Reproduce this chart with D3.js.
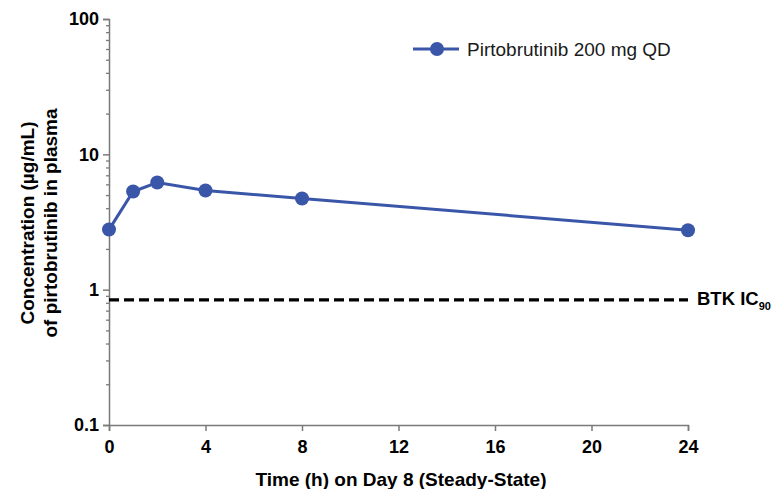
<!DOCTYPE html>
<html lang="en">
<head>
<meta charset="UTF-8">
<script src="https://d3js.org/d3.v7.min.js"></script>
<style>
  body { margin: 0; background: #fff; font-family: "Liberation Sans", Arial, sans-serif; }
</style>
</head>
<body>
<div id="chart"></div>
<script>
// data
const hours = [0, 1, 2, 4, 8, 24];
const conc = [2.78, 5.31, 6.19, 5.40, 4.72, 2.75];
const seriesName = "Pirtobrutinib 200 mg QD";
const btkIC90 = 0.84;
const xTicks = [0, 4, 8, 12, 16, 20, 24];
const yTicks = [0.1, 1, 10, 100];

const W = 776, H = 489;
const plotL = 109, plotR = 688, plotT = 19, plotB = 425;
const blue = "#3a56a8", axisGrey = "#7a7a7a";
const font = "'Liberation Sans', Arial, sans-serif";

const svg = d3.select("#chart").append("svg")
  .attr("width", W).attr("height", H)
  .style("font-family", font);

const x = d3.scaleLinear().domain([0, 24]).range([plotL, plotR]);
const y = d3.scaleLog().domain([0.1, 100]).range([plotB, plotT]);

// minor y ticks
const minor = [];
[0.1, 1, 10].forEach(d => { for (let k = 2; k <= 9; k++) minor.push(d * k); });
svg.append("g")
  .attr("transform", `translate(${plotL},0)`)
  .call(d3.axisLeft(y).tickValues(minor).tickSize(3).tickFormat(""))
  .call(g => g.select(".domain").remove())
  .call(g => g.selectAll("line").attr("stroke", axisGrey).attr("stroke-width", 1.3));

// y axis
svg.append("g")
  .attr("transform", `translate(${plotL},0)`)
  .call(d3.axisLeft(y).tickValues(yTicks).tickSize(6).tickPadding(4)
    .tickFormat(d => d >= 1 ? d3.format("d")(d) : d))
  .call(g => g.select(".domain").attr("stroke", axisGrey).attr("stroke-width", 1.5))
  .call(g => g.selectAll("line").attr("stroke", axisGrey).attr("stroke-width", 1.5))
  .call(g => g.selectAll("text").attr("fill", "#000").style("font-size", "18px")
    .style("font-weight", "bold").style("font-family", font));

// x axis
svg.append("g")
  .attr("transform", `translate(0,${plotB})`)
  .call(d3.axisBottom(x).tickValues(xTicks).tickSize(6).tickPadding(9))
  .call(g => g.select(".domain").attr("stroke", axisGrey).attr("stroke-width", 1.5))
  .call(g => g.selectAll("line").attr("stroke", axisGrey).attr("stroke-width", 1.5))
  .call(g => g.selectAll("text").attr("fill", "#000").style("font-size", "18px")
    .style("font-weight", "bold").style("font-family", font));

// axis titles
svg.append("text")
  .attr("x", 401).attr("y", 486)
  .attr("text-anchor", "middle")
  .style("font-size", "19px").style("font-weight", "bold")
  .text("Time (h) on Day 8 (Steady-State)");

const yt = svg.append("text")
  .attr("transform", "translate(34,223) rotate(-90)")
  .attr("text-anchor", "middle")
  .style("font-size", "19px").style("font-weight", "bold");
yt.append("tspan").attr("x", 0).attr("dy", 0).text("Concentration (µg/mL)");
yt.append("tspan").attr("x", 0).attr("dy", 23).text("of pirtobrutinib in plasma");

// BTK IC90 reference line
svg.append("line")
  .attr("x1", x(0)).attr("x2", x(24))
  .attr("y1", y(btkIC90)).attr("y2", y(btkIC90))
  .attr("stroke", "#000").attr("stroke-width", 3.2)
  .attr("stroke-dasharray", "10,5");

const lab = svg.append("text")
  .attr("x", 697).attr("y", 305)
  .style("font-size", "18.5px").style("font-weight", "bold")
  .text("BTK IC");
lab.append("tspan").attr("dy", 5).style("font-size", "11px").text("90");

// series
const pts = hours.map((h, i) => [h, conc[i]]);
svg.append("path")
  .datum(pts)
  .attr("fill", "none")
  .attr("stroke", blue)
  .attr("stroke-width", 3)
  .attr("d", d3.line().x(d => x(d[0])).y(d => y(d[1])));

svg.append("g").selectAll("circle")
  .data(pts)
  .enter().append("circle")
  .attr("cx", d => x(d[0]))
  .attr("cy", d => y(d[1]))
  .attr("r", 7)
  .attr("fill", blue);

// legend
const lg = svg.append("g").attr("transform", "translate(413,49)");
lg.append("line").attr("x1", 0).attr("x2", 46).attr("stroke", blue).attr("stroke-width", 3);
lg.append("circle").attr("cx", 24).attr("r", 7).attr("fill", blue);
lg.append("text").attr("x", 54).attr("y", 7)
  .style("font-size", "19px").attr("fill", "#1a1a1a")
  .text(seriesName);
</script>
</body>
</html>
